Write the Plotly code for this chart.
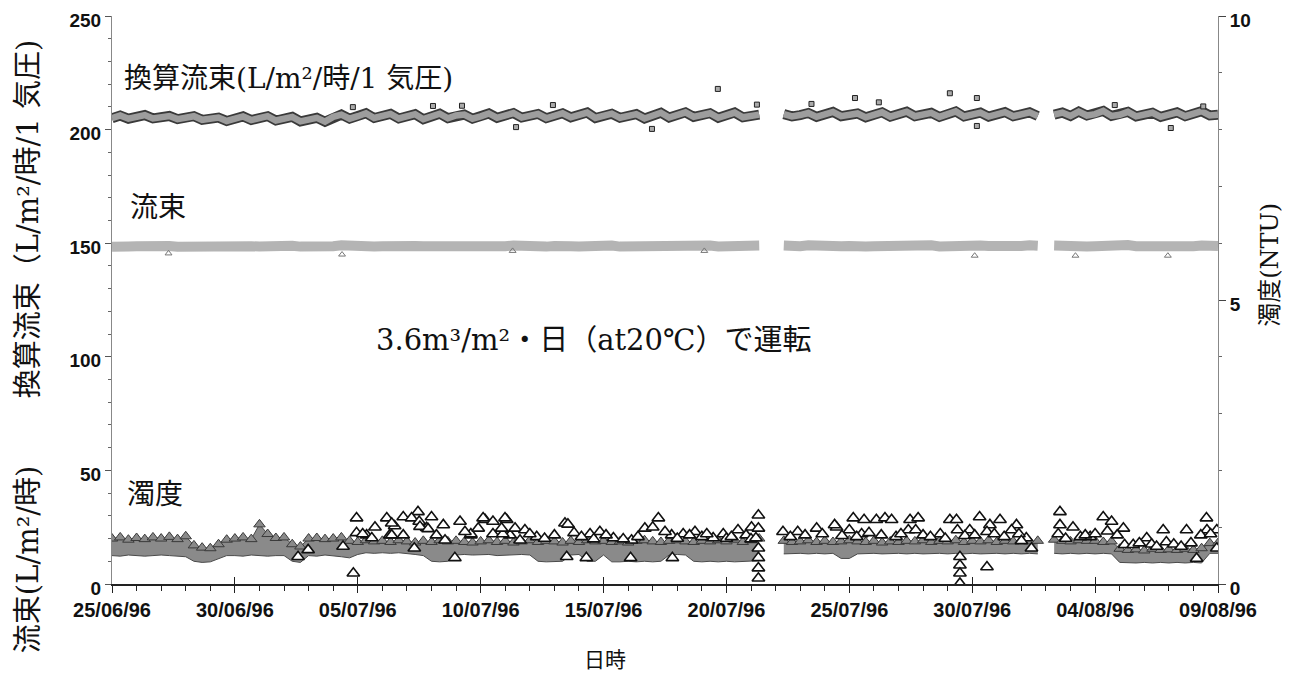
import pandas as pd
import plotly.graph_objects as go

# ---------------- data ----------------
start_date = "1996-06-25"
end_date = "1996-08-09"
# sampling every 8 hours (3 per day), 25/06/96 00:00 .. 09/08/96 00:00
times = pd.date_range(start_date, end_date, freq="8h")

# corrected flux  換算流束 (L/m2/h/1atm)
conv_flux = [
    205.0, 206.2, 204.8, 205.6, 206.4, 204.9, 205.8, 206.0, 204.6, 205.2, 205.9, 204.3, 204.9, 205.3, 203.8,
    204.6, 205.8, 204.2, 205.1, 205.9, 204.0, 204.8, 205.6, 203.6, 204.2, 205.2, 203.5, 205.6, 206.6, 204.8,
    205.9, 207.2, 205.1, 206.1, 206.9, 204.9, 205.7, 206.8, 204.6, 205.9, 207.0, 205.0, 206.2, 206.6, 204.8,
    205.8, 207.1, 205.2, 206.0, 207.3, 205.3, 206.4, 206.9, 205.0, 205.9, 207.2, 205.4, 206.3, 207.5, 205.1,
    206.0, 207.0, 205.2, 205.8, 206.8, 204.9, 206.2, 207.4, 205.3, 206.5, 207.6, 205.6, 206.1, 207.2, 205.2,
    206.3, 207.5, 205.4, 205.9, 206.6, None, None, 206.8, 205.8, 206.4, 207.3, 205.6, 206.7, 207.8, 205.9,
    206.2, 207.1, 205.4, 206.5, 207.6, 205.7, 206.8, 207.9, 205.9, 206.3, 207.4, 205.6, 206.6, 208.0, 205.8,
    206.4, 207.5, 205.7, 206.7, 207.7, 205.9, 206.5, 207.6, 206.0, None, 206.6, 207.5, 206.0, 207.9, 206.2,
    206.8, 208.2, 206.0, 206.5, 207.8, 205.8, 206.9, 207.4, 205.6, 206.3, 207.6, 205.9, 206.7, 208.1, 206.2,
    206.5,
]

# flux  流束 (L/m2/h)
flux = [
    148.4, 148.9, 148.6, 148.7, 149.0, 148.5, 148.6, 148.8, 148.4, 148.5, 148.9, 148.6, 148.3, 148.7, 148.5,
    148.6, 149.0, 148.7, 148.5, 148.8, 148.4, 148.6, 148.9, 148.5, 148.4, 148.7, 148.6, 148.7, 149.1, 148.8,
    148.6, 148.9, 148.5, 148.7, 149.0, 148.6, 148.5, 148.8, 148.7, 148.6, 149.1, 148.5, 148.8, 148.9, 148.6,
    148.5, 148.8, 148.7, 148.7, 149.0, 148.6, 148.6, 148.9, 148.5, 148.8, 149.1, 148.7, 148.6, 148.9, 148.6,
    148.7, 149.0, 148.5, 148.6, 148.8, 148.7, 148.8, 149.1, 148.6, 148.5, 148.9, 148.7, 148.7, 149.0, 148.6,
    148.6, 148.9, 148.7, 148.8, 149.0, None, None, 149.0, 148.6, 148.7, 149.1, 148.8, 148.6, 148.9, 148.7,
    148.8, 149.2, 148.6, 148.7, 148.9, 148.8, 148.6, 149.0, 148.7, 148.8, 149.1, 148.6, 148.9, 149.2, 148.7,
    148.7, 149.0, 148.8, 148.6, 148.9, 148.7, 148.8, 149.1, 148.9, None, 149.0, 148.7, 148.8, 149.1, 148.6,
    148.7, 149.0, 148.8, 148.9, 149.2, 148.7, 148.6, 148.9, 148.8, 148.8, 149.1, 148.7, 148.7, 149.0, 148.9,
    148.8,
]

# turbidity 濁度 (NTU): upper / lower edge of the dense band
turb_high = [
    0.80, 0.82, 0.78, 0.81, 0.79, 0.82, 0.80, 0.83, 0.79, 0.84, 0.68, 0.64, 0.63, 0.70, 0.78,
    0.80, 0.82, 0.79, 1.05, 0.88, 0.81, 0.82, 0.70, 0.66, 0.80, 0.81, 0.79, 0.80, 0.82, 0.76,
    0.74, 0.77, 0.75, 0.76, 0.74, 0.77, 0.75, 0.73, 0.76, 0.74, 0.77, 0.75, 0.76, 0.74, 0.73,
    0.75, 0.77, 0.74, 0.76, 0.73, 0.75, 0.77, 0.74, 0.76, 0.75, 0.73, 0.76, 0.74, 0.77, 0.75,
    0.76, 0.74, 0.75, 0.73, 0.76, 0.77, 0.75, 0.74, 0.76, 0.77, 0.75, 0.74, 0.76, 0.75, 0.77,
    0.75, 0.78, 0.74, 0.77, 0.80, None, None, 0.76, 0.74, 0.75, 0.77, 0.74, 0.76, 0.74, 0.75,
    0.77, 0.75, 0.74, 0.76, 0.73, 0.75, 0.74, 0.76, 0.75, 0.77, 0.74, 0.76, 0.75, 0.77, 0.74,
    0.76, 0.75, 0.77, 0.74, 0.76, 0.75, 0.77, 0.75, 0.76, None, 0.78, 0.76, 0.75, 0.77, 0.76,
    0.76, 0.74, 0.75, 0.62, 0.60, 0.61, 0.59, 0.62, 0.60, 0.61, 0.60, 0.62, 0.60, 0.63, 0.72,
    0.72,
]
turb_low = [
    0.50, 0.49, 0.51, 0.50, 0.49, 0.50, 0.51, 0.50, 0.49, 0.48, 0.40, 0.38, 0.39, 0.45, 0.50,
    0.50, 0.49, 0.51, 0.50, 0.49, 0.50, 0.50, 0.40, 0.38, 0.50, 0.49, 0.51, 0.50, 0.48, 0.46,
    0.52, 0.55, 0.54, 0.55, 0.54, 0.55, 0.54, 0.52, 0.50, 0.40, 0.39, 0.40, 0.51, 0.52, 0.51,
    0.51, 0.52, 0.50, 0.51, 0.51, 0.52, 0.51, 0.40, 0.39, 0.40, 0.40, 0.51, 0.52, 0.40, 0.40,
    0.51, 0.39, 0.39, 0.40, 0.39, 0.40, 0.39, 0.40, 0.51, 0.52, 0.51, 0.40, 0.39, 0.40, 0.39,
    0.40, 0.39, 0.40, 0.40, 0.41, None, None, 0.53, 0.54, 0.54, 0.53, 0.54, 0.53, 0.54, 0.45,
    0.45, 0.53, 0.54, 0.54, 0.53, 0.54, 0.54, 0.53, 0.54, 0.53, 0.54, 0.54, 0.53, 0.54, 0.53,
    0.54, 0.53, 0.54, 0.54, 0.53, 0.54, 0.53, 0.54, 0.53, None, 0.54, 0.53, 0.54, 0.53, 0.54,
    0.53, 0.54, 0.53, 0.38, 0.37, 0.37, 0.38, 0.37, 0.38, 0.37, 0.38, 0.37, 0.38, 0.37, 0.54,
    0.54,
]

# individual turbidity readings standing out of the band (days from 25/06/96, NTU)
spike_day = [
    9.95, 9.82, 11.18, 11.85, 12.45, 12.19, 11.3, 11.85, 12.8, 9.95, 10.36, 9.4, 12.3, 7.98, 7.57,
    10.7, 11.5, 13.0, 14.6, 16.2,
    10.2, 10.57, 11.38, 11.38, 12.5, 12.53, 12.86, 13.2, 14.6, 15.18, 16.06, 15.5, 15.9, 16.6,
    13.48, 14.16, 15.1, 15.5, 15.99, 16.4, 16.8, 14.9, 14.36, 15.85, 13.55, 17.28, 18.43, 18.55, 19.45,
    19.85, 20.4, 21.14, 21.68, 22.0, 22.23, 22.77, 23.24, 23.72, 24.46, 24.87, 25.47, 26.02,
    17.0, 17.6, 18.0, 18.8, 19.1, 19.6, 20.1, 20.8, 21.4, 22.5, 23.0, 23.5, 24.0, 24.2, 25.0,
    25.2, 25.8, 26.0,
    26.3, 26.2, 26.3, 26.3, 26.3, 26.3, 26.3,
    27.3, 27.9, 28.67, 29.48, 18.5, 19.3, 22.8, 21.1, 13.95,
    29.4, 30.16, 30.6, 31.1, 31.45, 31.72, 32.47, 32.8, 34.09, 34.36, 35.3, 35.72, 36.13, 36.8,
    30.0, 30.5, 32.4, 32.7, 33.7, 34.4, 34.9, 35.6, 36.6, 37.2, 37.41,
    27.6, 28.2, 28.9, 29.7, 30.3, 30.8, 31.3, 31.9, 32.1, 33.0, 33.3, 33.9, 34.7, 35.1, 35.9,
    36.3, 36.9, 37.0,
    34.5, 34.5, 34.5, 34.5, 35.6,
    38.57, 38.57, 39.1, 40.33, 40.67, 41.15, 39.8, 41.2, 41.55, 42.77, 43.72, 44.53, 44.55, 44.95,
    44.95, 44.13, 42.1, 42.9, 39.4,
    38.5, 38.8, 39.6, 40.0, 40.5, 40.9, 41.8, 42.3, 42.5, 43.2, 43.5, 43.9, 44.3, 44.7,
]
spike_ntu = [
    1.16, 0.19, 1.16, 1.18, 1.27, 1.16, 0.86, 0.86, 0.99, 0.90, 0.86, 0.66, 0.63, 0.60, 0.48,
    1.00, 1.02, 1.18, 0.86, 0.86,
    0.88, 0.81, 1.07, 0.86, 1.10, 1.01, 0.97, 0.86, 0.88, 1.13, 1.13, 0.88, 0.88, 0.77,
    1.04, 1.10, 1.16, 1.10, 1.16, 0.98, 0.95, 0.98, 0.92, 0.98, 0.77, 0.83, 1.07, 1.05, 0.88,
    0.92, 0.81, 0.77, 0.98, 1.00, 1.16, 0.86, 0.88, 0.92, 0.81, 0.88, 0.95, 1.00,
    0.88, 0.80, 0.86, 0.90, 0.83, 0.79, 0.86, 0.79, 0.83, 0.92, 0.80, 0.86, 0.83, 0.88, 0.80,
    0.83, 0.86, 0.79,
    1.21, 0.81, 0.98, 0.63, 0.46, 0.28, 0.10,
    0.92, 0.92, 0.98, 1.00, 0.48, 0.46, 0.46, 0.46, 0.46,
    1.04, 1.16, 1.13, 1.13, 1.16, 1.13, 1.13, 1.16, 1.13, 1.13, 1.18, 1.04, 1.13, 1.04,
    0.95, 0.88, 0.95, 0.95, 0.88, 0.95, 0.95, 0.92, 0.95, 0.81, 0.63,
    0.83, 0.86, 0.88, 0.85, 0.83, 0.90, 0.86, 0.83, 0.88, 0.86, 0.83, 0.80, 0.85, 0.86, 0.88,
    0.83, 0.88, 0.76,
    0.48, 0.33, 0.19, 0.01, 0.30,
    1.27, 1.04, 1.00, 1.18, 1.10, 0.98, 0.83, 0.69, 0.69, 0.95, 0.95, 1.16, 0.95, 0.95,
    0.63, 0.45, 0.81, 0.74, 0.83,
    0.88, 0.80, 0.86, 0.88, 0.93, 0.86, 0.72, 0.70, 0.66, 0.70, 0.66, 0.72, 0.86, 0.88,
]

# stray corrected-flux readings (days from 25/06/96, L/m2/h/1atm)
conv_out_day = [9.8, 13.06, 14.24, 16.44, 17.94, 21.97, 24.65, 26.24, 28.46, 30.23, 31.2,
                34.09, 35.19, 35.19, 40.8, 43.08, 44.4]
conv_out_val = [209.9, 210.4, 210.5, 201.1, 210.8, 200.3, 217.9, 211.0, 211.3, 213.9, 212.0,
                216.0, 213.9, 201.6, 210.8, 200.7, 210.2]

# stray flux readings
flux_out_day = [2.3, 9.36, 16.3, 24.1, 35.1, 39.2, 42.96]
flux_out_val = [145.5, 145.0, 146.6, 146.6, 144.5, 144.5, 144.5]

x_tick_labels_fmt = "%d/%m/%y"

# ---------------- helpers ----------------
t0 = pd.Timestamp(start_date)


def days_to_dates(days):
    return [t0 + pd.Timedelta(days=d) for d in days]


def segments(values):
    segs, cur = [], []
    for i, v in enumerate(values):
        if v is None:
            if cur:
                segs.append(cur)
            cur = []
        else:
            cur.append(i)
    if cur:
        segs.append(cur)
    return segs


fig = go.Figure()

# turbidity band (right axis)
for seg in segments(turb_high):
    xs = [times[i] for i in seg]
    fig.add_trace(go.Scatter(x=xs, y=[turb_low[i] for i in seg], yaxis="y2", mode="lines",
                             line=dict(color="#4a4a4a", width=1), hoverinfo="skip", showlegend=False))
    fig.add_trace(go.Scatter(x=xs, y=[turb_high[i] for i in seg], yaxis="y2", mode="lines",
                             fill="tonexty", fillcolor="#8a8a8a",
                             line=dict(color="#4a4a4a", width=1), hoverinfo="skip", showlegend=False))
fig.add_trace(go.Scatter(x=times, y=turb_high, yaxis="y2", mode="markers",
                         marker=dict(symbol="triangle-up", size=10, color="#8a8a8a",
                                     line=dict(color="#3a3a3a", width=1)),
                         showlegend=False, hoverinfo="skip"))
fig.add_trace(go.Scatter(x=days_to_dates(spike_day), y=spike_ntu, yaxis="y2", mode="markers",
                         marker=dict(symbol="triangle-up", size=11, color="white",
                                     line=dict(color="#111", width=1.6)),
                         showlegend=False))

# flux band
fig.add_trace(go.Scatter(x=times, y=flux, mode="lines", connectgaps=False,
                         line=dict(color="#b4b4b4", width=10), showlegend=False))
fig.add_trace(go.Scatter(x=days_to_dates(flux_out_day), y=flux_out_val, mode="markers",
                         marker=dict(symbol="triangle-up-open", size=6, color="#777",
                                     line=dict(width=1)), showlegend=False))

# corrected flux band (dark outline + grey core)
fig.add_trace(go.Scatter(x=times, y=conv_flux, mode="lines", connectgaps=False,
                         line=dict(color="#3a3a3a", width=10), showlegend=False, hoverinfo="skip"))
fig.add_trace(go.Scatter(x=times, y=conv_flux, mode="lines", connectgaps=False,
                         line=dict(color="#9d9d9d", width=6.5), showlegend=False))
fig.add_trace(go.Scatter(x=days_to_dates(conv_out_day), y=conv_out_val, mode="markers",
                         marker=dict(symbol="square", size=5, color="#aaa",
                                     line=dict(color="#222", width=1)), showlegend=False))

# invisible trace for the overlay x axis carrying crossing major ticks
fig.add_trace(go.Scatter(x=[times[0]], y=[0], xaxis="x2", mode="markers",
                         marker=dict(opacity=0), showlegend=False, hoverinfo="skip"))

tick_font = dict(family="Liberation Sans, Arial, sans-serif", size=19, color="#111", weight="bold")
jp = "DejaVu Serif, Noto Sans CJK JP, serif"
day_ms = 86400000

# the page body has an 8px default margin: figure is sized/offset to compensate
fig.update_layout(
    width=1282, height=671, autosize=False,
    margin=dict(l=104, r=72, t=8, b=95),
    plot_bgcolor="white", paper_bgcolor="white",
    showlegend=False,
    xaxis=dict(
        type="date", range=[start_date, end_date], automargin=False, ticklabeloverflow="allow",
        tick0=start_date, dtick=5 * day_ms, tickformat=x_tick_labels_fmt,
        tickfont=dict(family="Liberation Sans, Arial, sans-serif", size=20, color="#111", weight="bold"),
        ticks="outside", ticklen=7, tickwidth=1.3, tickcolor="#222",
        minor=dict(dtick=day_ms, tick0=start_date, ticks="outside", ticklen=5, tickwidth=1, tickcolor="#222"),
        showline=True, linecolor="#222", linewidth=1.5,
        showgrid=False, zeroline=False,
    ),
    xaxis2=dict(
        type="date", range=[start_date, end_date], overlaying="x", anchor="y", side="bottom",
        automargin=False,
        tick0=start_date, dtick=5 * day_ms, ticks="inside", ticklen=7, tickwidth=1.3, tickcolor="#222",
        showticklabels=False, showline=False, showgrid=False, zeroline=False,
    ),
    yaxis=dict(
        range=[0, 250], dtick=50, tick0=0, automargin=False, ticklabeloverflow="allow",
        ticklabelshift=4,
        tickfont=tick_font,
        ticks="outside", ticklen=6, tickwidth=1, tickcolor="#555",
        minor=dict(dtick=10, ticks="outside", ticklen=3, tickwidth=1, tickcolor="#666"),
        showline=True, linecolor="#888", linewidth=1,
        showgrid=False, zeroline=False,
    ),
    yaxis2=dict(
        range=[0, 10], dtick=5, tick0=0, overlaying="y", side="right", automargin=False,
        ticklabeloverflow="allow", ticklabelshift=4,
        tickfont=tick_font,
        ticks="outside", ticklen=7, tickwidth=1, tickcolor="#444",
        minor=dict(dtick=1, ticks="outside", ticklen=3, tickwidth=1, tickcolor="#666"),
        showline=True, linecolor="#888", linewidth=1,
        showgrid=False, zeroline=False,
    ),
)

ann_font = dict(family=jp, size=28, color="#111")
annotations = [
    dict(text="換算流束(L/m²/時/1 気圧)", xref="paper", yref="y", x=0.009, y=222.7,
         xanchor="left", yanchor="middle", font=ann_font),
    dict(text="流束", xref="paper", yref="y", x=0.0145, y=165.9,
         xanchor="left", yanchor="middle", font=ann_font),
    dict(text="3.6m³/m²・日（at20℃）で運転", xref="paper", yref="y", x=0.4358, y=107.4,
         xanchor="center", yanchor="middle", font=dict(family=jp, size=29, color="#111")),
    dict(text="濁度", xref="paper", yref="y", x=0.0118, y=39.2,
         xanchor="left", yanchor="middle", font=ann_font),
    dict(text="流束(L/m²/時)　　 換算流束（L/m²/時/1 気圧)", xref="paper", yref="paper",
         x=0, y=0.417, xshift=-84, xanchor="center", yanchor="middle", textangle=-90,
         font=dict(family=jp, size=29, color="#111")),
    dict(text="濁度(NTU)", xref="paper", yref="paper", x=1, y=0.562, xshift=52,
         xanchor="center", yanchor="middle", textangle=-90, font=dict(family=jp, size=24, color="#111")),
    dict(text="日時", xref="paper", yref="paper", x=0.4458, y=0, yshift=-76,
         xanchor="center", yanchor="middle", font=dict(family=jp, size=21, color="#111")),
]
for a in annotations:
    a["showarrow"] = False
fig.update_layout(annotations=annotations)

fig.write_html("out.html")
